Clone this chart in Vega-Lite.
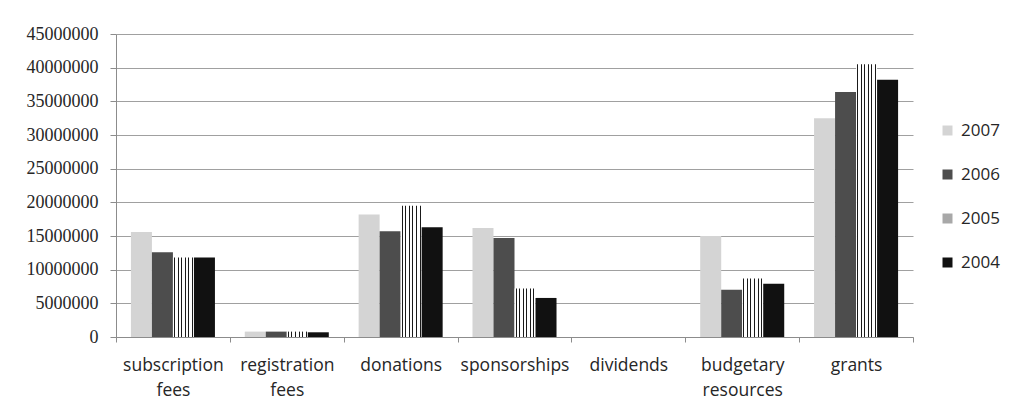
{
  "$schema": "https://vega.github.io/schema/vega-lite/v6.json",
  "width": 797,
  "height": 303,
  "autosize": {"type": "none"},
  "padding": {"left": 116, "top": 34, "right": 103, "bottom": 73},
  "background": "white",
  "config": {"view": {"stroke": null}},
  "data": {
    "values": [
      {"category": "subscription fees", "year": "2007", "value": 15600000},
      {"category": "subscription fees", "year": "2006", "value": 12600000},
      {"category": "subscription fees", "year": "2005", "value": 11800000},
      {"category": "subscription fees", "year": "2004", "value": 11800000},
      {"category": "registration fees", "year": "2007", "value": 800000},
      {"category": "registration fees", "year": "2006", "value": 800000},
      {"category": "registration fees", "year": "2005", "value": 800000},
      {"category": "registration fees", "year": "2004", "value": 700000},
      {"category": "donations", "year": "2007", "value": 18200000},
      {"category": "donations", "year": "2006", "value": 15700000},
      {"category": "donations", "year": "2005", "value": 19500000},
      {"category": "donations", "year": "2004", "value": 16300000},
      {"category": "sponsorships", "year": "2007", "value": 16200000},
      {"category": "sponsorships", "year": "2006", "value": 14700000},
      {"category": "sponsorships", "year": "2005", "value": 7200000},
      {"category": "sponsorships", "year": "2004", "value": 5800000},
      {"category": "dividends", "year": "2007", "value": 0},
      {"category": "dividends", "year": "2006", "value": 0},
      {"category": "dividends", "year": "2005", "value": 0},
      {"category": "dividends", "year": "2004", "value": 0},
      {"category": "budgetary resources", "year": "2007", "value": 15000000},
      {"category": "budgetary resources", "year": "2006", "value": 7000000},
      {"category": "budgetary resources", "year": "2005", "value": 8700000},
      {"category": "budgetary resources", "year": "2004", "value": 7900000},
      {"category": "grants", "year": "2007", "value": 32500000},
      {"category": "grants", "year": "2006", "value": 36400000},
      {"category": "grants", "year": "2005", "value": 40500000},
      {"category": "grants", "year": "2004", "value": 38200000}
    ]
  },
  "mark": {"type": "bar"},
  "encoding": {
    "x": {
      "field": "category",
      "type": "nominal",
      "sort": ["subscription fees", "registration fees", "donations", "sponsorships", "dividends", "budgetary resources", "grants"],
      "scale": {"paddingInner": 0, "paddingOuter": 0},
      "axis": {
        "title": null,
        "labelAngle": 0,
        "labelExpr": "split(datum.label, ' ')",
        "labelFont": "Open Sans",
        "labelFontSize": 17.5,
        "labelColor": "#262626",
        "labelLineHeight": 25,
        "labelPadding": 14,
        "labelBaseline": "top",
        "tickBand": "extent",
        "tickSize": 5,
        "tickColor": "#8c8c8c",
        "domainColor": "#8c8c8c",
        "grid": false
      }
    },
    "xOffset": {
      "field": "year",
      "type": "nominal",
      "sort": ["2007", "2006", "2005", "2004"],
      "scale": {"paddingInner": 0, "paddingOuter": 0.71}
    },
    "y": {
      "field": "value",
      "type": "quantitative",
      "scale": {"domain": [0, 45000000], "nice": false},
      "axis": {
        "title": null,
        "values": [0, 5000000, 10000000, 15000000, 20000000, 25000000, 30000000, 35000000, 40000000, 45000000],
        "format": "d",
        "labelFont": "Liberation Serif, Times New Roman, serif",
        "labelFontSize": 18,
        "labelColor": "#262626",
        "labelPadding": 12,
        "tickSize": 6,
        "tickColor": "#8c8c8c",
        "domainColor": "#8c8c8c",
        "gridColor": "#a0a0a0",
        "gridWidth": 1
      }
    },
    "fill": {
      "field": "year",
      "type": "nominal",
      "scale": {
        "domain": ["2007", "2006", "2005", "2004"],
        "range": ["#d4d4d4", "#4d4d4d", "#a8a8a8", "#111111"]
      },
      "legend": {
        "title": null,
        "orient": "none",
        "legendX": 823,
        "legendY": 88,
        "symbolType": "square",
        "symbolSize": 100,
        "symbolStrokeWidth": 0,
        "labelFont": "Open Sans",
        "labelFontSize": 17,
        "labelColor": "#262626",
        "rowPadding": 26,
        "labelOffset": 5
      },
      "condition": {
        "test": "datum.year === '2005'",
        "value": {
          "gradient": "linear",
          "x1": 0, "y1": 0, "x2": 1, "y2": 0,
          "stops": [
            {"offset": 0, "color": "#ffffff"},
            {"offset": 0.05, "color": "#ffffff"},
            {"offset": 0.05, "color": "#1a1a1a"},
            {"offset": 0.1, "color": "#1a1a1a"},
            {"offset": 0.1, "color": "#ffffff"},
            {"offset": 0.22, "color": "#ffffff"},
            {"offset": 0.22, "color": "#1a1a1a"},
            {"offset": 0.27, "color": "#1a1a1a"},
            {"offset": 0.27, "color": "#ffffff"},
            {"offset": 0.39, "color": "#ffffff"},
            {"offset": 0.39, "color": "#1a1a1a"},
            {"offset": 0.44, "color": "#1a1a1a"},
            {"offset": 0.44, "color": "#ffffff"},
            {"offset": 0.56, "color": "#ffffff"},
            {"offset": 0.56, "color": "#1a1a1a"},
            {"offset": 0.61, "color": "#1a1a1a"},
            {"offset": 0.61, "color": "#ffffff"},
            {"offset": 0.73, "color": "#ffffff"},
            {"offset": 0.73, "color": "#1a1a1a"},
            {"offset": 0.78, "color": "#1a1a1a"},
            {"offset": 0.78, "color": "#ffffff"},
            {"offset": 0.9, "color": "#ffffff"},
            {"offset": 0.9, "color": "#1a1a1a"},
            {"offset": 0.95, "color": "#1a1a1a"},
            {"offset": 0.95, "color": "#ffffff"},
            {"offset": 1, "color": "#ffffff"}
          ]
        }
      }
    }
  }
}
